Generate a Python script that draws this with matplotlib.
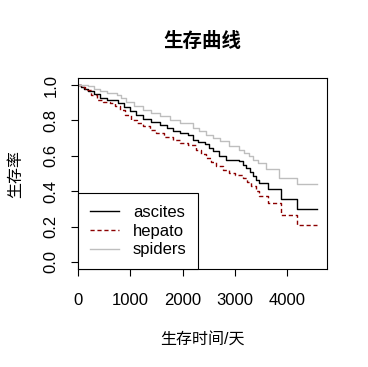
import numpy as np
import matplotlib.pyplot as plt

plt.rcParams['font.family'] = ['Liberation Sans', 'Noto Sans CJK SC', 'DejaVu Sans']

# survival step curves (time in days, survival after step)
ascites_t = [0, 60, 120, 196, 300, 419, 560, 768, 880, 990, 1100, 1244, 1400, 1562, 1700,
             1816, 1950, 2101, 2197, 2300, 2419, 2500, 2578, 2700, 2832, 3086, 3150,
             3213, 3280, 3340, 3400, 3467, 3625, 3879, 4196, 4577]
ascites_s = [1.0, 0.99, 0.98, 0.964, 0.95, 0.927, 0.915, 0.898, 0.875, 0.851, 0.83, 0.808,
             0.79, 0.776, 0.757, 0.738, 0.728, 0.719, 0.691, 0.68, 0.668, 0.645, 0.625,
             0.6, 0.574, 0.568, 0.55, 0.531, 0.51, 0.484, 0.465, 0.446, 0.414, 0.358,
             0.299, 0.299]

hepato_t = [0, 60, 133, 250, 356, 480, 610, 700, 800, 900, 1022, 1130, 1244, 1380, 1498,
            1650, 1816, 1950, 2101, 2260, 2350, 2451, 2550, 2641, 2780, 2895, 3000,
            3149, 3230, 3308, 3400, 3467, 3625, 3879, 4196, 4577]
hepato_s = [1.0, 0.99, 0.973, 0.945, 0.917, 0.905, 0.898, 0.88, 0.86, 0.83, 0.804, 0.785,
            0.766, 0.748, 0.729, 0.708, 0.687, 0.675, 0.663, 0.634, 0.61, 0.587, 0.565,
            0.54, 0.52, 0.503, 0.49, 0.474, 0.45, 0.427, 0.4, 0.371, 0.333, 0.267,
            0.211, 0.211]

spiders_t = [0, 100, 196, 300, 419, 560, 737, 830, 927, 1080, 1244, 1400, 1562, 1750,
             1943, 2197, 2320, 2451, 2580, 2705, 2895, 3086, 3180, 3276, 3350, 3435,
             3594, 3848, 4196, 4577]
spiders_s = [1.0, 0.998, 0.992, 0.978, 0.964, 0.955, 0.945, 0.925, 0.907, 0.883, 0.86,
             0.842, 0.823, 0.804, 0.785, 0.757, 0.738, 0.719, 0.70, 0.681, 0.653, 0.634,
             0.615, 0.597, 0.578, 0.559, 0.525, 0.474, 0.442, 0.442]

fig = plt.figure(figsize=(3.68, 3.67), dpi=100)
ax = fig.add_axes([78 / 368, 98 / 367, 249 / 368, 191 / 367])

ax.step(ascites_t, ascites_s, where='post', color='black', lw=1, label='ascites')
ax.step(hepato_t, hepato_s, where='post', color='#8b0000', lw=1,
        linestyle=(0, (3, 2)), label='hepato')
ax.step(spiders_t, spiders_s, where='post', color='#bebebe', lw=1, label='spiders')

ax.set_xlim(0, 4760)
ax.set_ylim(-0.04, 1.04)
ax.set_xticks([0, 1000, 2000, 3000, 4000])
ax.set_yticks([0.0, 0.2, 0.4, 0.6, 0.8, 1.0])
ax.set_yticklabels(['0.0', '0.2', '0.4', '0.6', '0.8', '1.0'], rotation=90, va='center')
ax.tick_params(direction='out', length=5, width=0.8, labelsize=12)
ax.tick_params(axis='x', pad=12)
ax.tick_params(axis='y', pad=9)
for s in ax.spines.values():
    s.set_linewidth(0.8)

ax.set_title('生存曲线', fontsize=14, fontweight='bold', pad=22)
ax.set_xlabel('生存时间/天', fontsize=11.5, labelpad=17)
ax.set_ylabel('生存率', fontsize=11.5, labelpad=15)

leg = ax.legend(loc='lower left', borderaxespad=0, fontsize=12, fancybox=False,
                edgecolor='black', framealpha=1, handlelength=1.75, handletextpad=0.85,
                labelspacing=0.23, borderpad=0.7)
leg.get_frame().set_linewidth(0.8)

fig.savefig('out.png', dpi=100)
